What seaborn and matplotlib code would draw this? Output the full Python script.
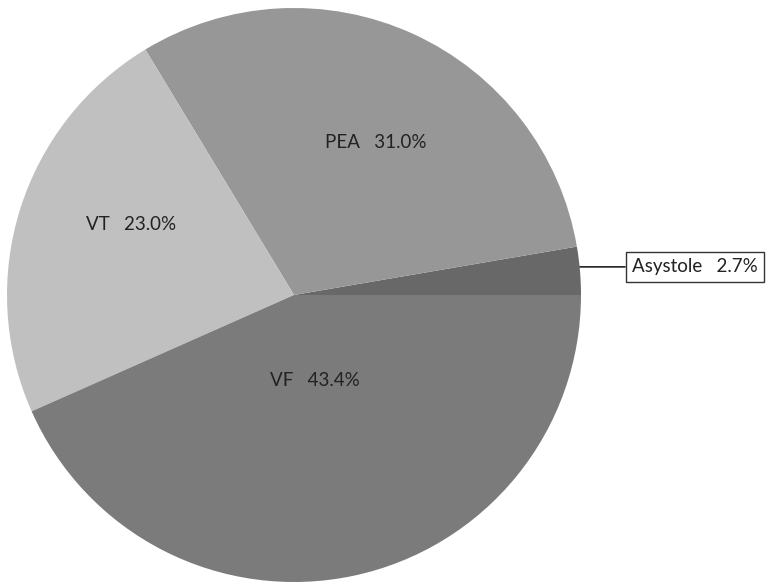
import numpy as np
import matplotlib
matplotlib.use("Agg")
import matplotlib.pyplot as plt
import seaborn as sns

# ================= DATOS =================
rhythms = ["Asystole", "PEA", "VT", "VF"]
percent = [2.7, 31.0, 23.0, 43.4]
colors = ["#686868", "#979797", "#c0c0c0", "#7b7b7b"]
# posición de cada etiqueta: distancia radial y desvío angular (como la pone Excel)
label_r = [None, 0.605, 0.62, 0.305]
label_dang = [0, -3.7, -5.9, 1.7]

sns.set_style("white")
plt.rcParams["font.family"] = ["Lato", "DejaVu Sans"]

fig = plt.figure(figsize=(7.69, 5.83), dpi=100)
R = 287
cx, cy = 294, 583 - 295
ax = fig.add_axes([(cx - R) / 769, (cy - R) / 583, 2 * R / 769, 2 * R / 583])

wedges, _ = ax.pie(percent, colors=colors, startangle=0, counterclock=True,
                   radius=1, wedgeprops=dict(linewidth=0))
ax.set_xlim(-1, 1)
ax.set_ylim(-1, 1)
ax.set_aspect("equal")
ax.axis("off")

for w, name, p, r, da in zip(wedges, rhythms, percent, label_r, label_dang):
    mid = np.deg2rad((w.theta1 + w.theta2) / 2 + da)
    txt = f"{name}   {p:.1f}%"
    if r is not None:
        ax.text(r * np.cos(mid), r * np.sin(mid), txt, ha="center", va="center",
                fontsize=13.5, color="#222222")
    else:
        y_lab = 0.098
        ax.annotate(txt, xy=(np.cos(mid), y_lab), xytext=(1.397, y_lab),
                    ha="center", va="center", fontsize=13.5, color="#222222",
                    annotation_clip=False,
                    bbox=dict(boxstyle="square,pad=0.35", fc="white", ec="#333333", lw=1),
                    arrowprops=dict(arrowstyle="-", color="#222222", lw=1.2,
                                    shrinkA=0, shrinkB=0))

fig.savefig("out.png", dpi=100)
